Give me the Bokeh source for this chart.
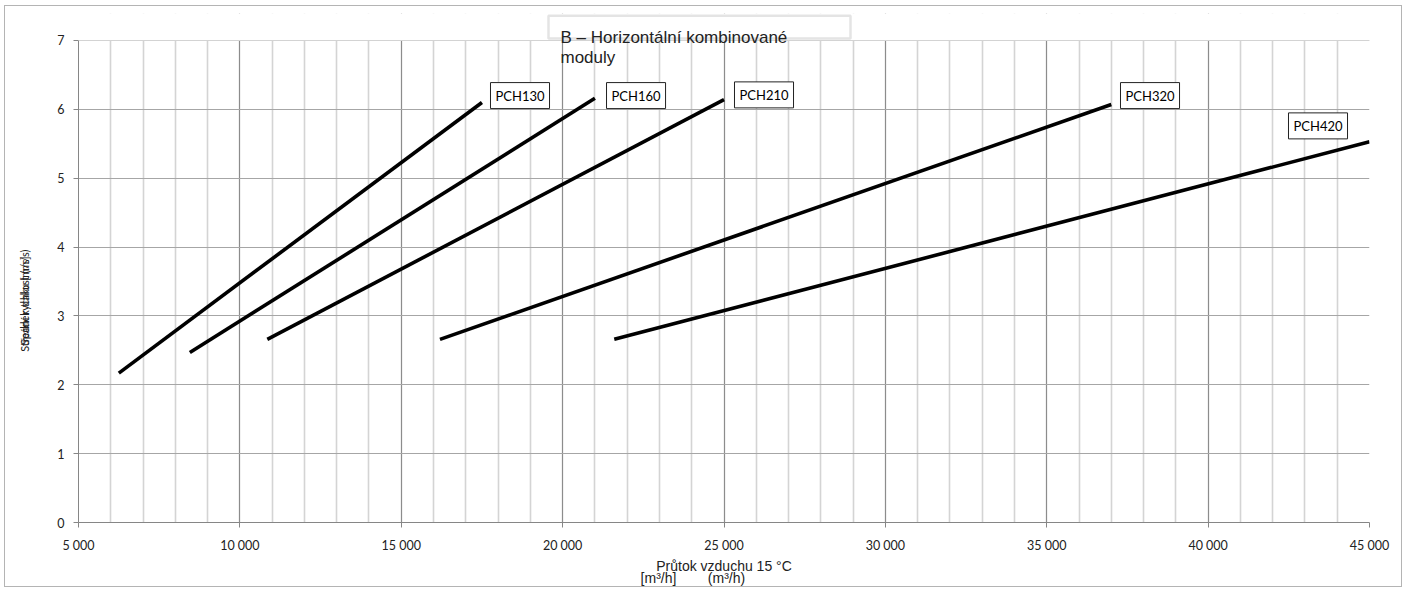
from bokeh.plotting import figure
from bokeh.models import (SingleIntervalTicker, FixedTicker, Label, BoxAnnotation,
                          CustomJSTickFormatter, Range1d, ColumnDataSource, LinearAxis)
from bokeh.embed import file_html
from bokeh.resources import INLINE

# ---- data ----
series_names = ["PCH130", "PCH160", "PCH210", "PCH320", "PCH420"]
flow_start = [6250, 8450, 10850, 16200, 21600]      # m3/h
flow_end = [17500, 21000, 25000, 37000, 45000]
speed_start = [2.17, 2.47, 2.66, 2.66, 2.66]        # m/s
speed_end = [6.10, 6.16, 6.14, 6.07, 5.53]
# series label anchor points (data units)
label_x = [17765, 21360, 25325, 37285, 42490]
label_y = [6.20, 6.20, 6.21, 6.20, 5.76]

x_min, x_max = 5000, 45000
y_min, y_max = 0, 7
x_tick_step = 5000
title_lines = ["B \u2013 Horizontální kombinované", "moduly"]
x_title = "Průtok vzduchu 15 °C"
x_units = ["[m³/h]", "(m³/h)"]
x_units_at = [22970, 25077]
y_titles = ["Spádek tlaku [m/s]", "Střední rychlost (m/s)"]
y_title_at = 3.22

W, H = 1398, 582
p = figure(width=W, height=H, output_backend="svg", toolbar_location=None,
           x_range=Range1d(x_min, x_max), y_range=Range1d(y_min, 7.392),
           min_border_left=73, min_border_right=34, min_border_top=7,
           min_border_bottom=66, title=None)
p.styles = {"border": "1px solid #b4b4b4", "margin": "5px 0px 0px 4px"}
p.outline_line_color = None
p.background_fill_color = "white"
p.border_fill_color = "white"

mx = p.xaxis[0]
my = p.yaxis[0]
mx.ticker = SingleIntervalTicker(interval=x_tick_step, num_minor_ticks=5)
my.ticker = SingleIntervalTicker(interval=1, num_minor_ticks=0)
my.bounds = (y_min, y_max)
mx.formatter = CustomJSTickFormatter(code="""
var s = Math.round(tick).toString();
return s.replace(/\\B(?=(\\d{3})+(?!\\d))/g, " ");
""")
for ax in (mx, my):
    ax.axis_line_color = "#868686"
    ax.axis_line_width = 1
    ax.major_tick_line_color = "#868686"
    ax.major_tick_in = 0
    ax.major_tick_out = 5
    ax.minor_tick_line_color = None
    ax.major_label_text_font = "Lato"
    ax.major_label_text_font_size = "12.5px"
    ax.major_label_text_color = "#222222"
mx.major_label_standoff = 10
my.major_label_standoff = 9
mx.axis_label = x_title
mx.axis_label_text_font = "Liberation Sans"
mx.axis_label_text_font_size = "14px"
mx.axis_label_text_font_style = "normal"
mx.axis_label_text_color = "#222222"
mx.axis_label_standoff = 2

# grid
p.xgrid.grid_line_color = "#8c8c8c"
p.xgrid.grid_line_width = 1
p.xgrid.minor_grid_line_color = "#d4d4d4"
p.xgrid.minor_grid_line_width = 1.6
p.ygrid.grid_line_color = "#a6a6a6"
p.ygrid.grid_line_width = 1

# white mask above the top of the value range
p.add_layout(BoxAnnotation(bottom=y_max, fill_color="white", fill_alpha=1.0,
                           line_color=None))

# lines
src = ColumnDataSource(dict(x0=flow_start, x1=flow_end, y0=speed_start, y1=speed_end))
p.segment(x0="x0", y0="y0", x1="x1", y1="y1", source=src,
          line_color="black", line_width=3.6, line_cap="butt")

# series labels
for name, lx, ly in zip(series_names, label_x, label_y):
    p.add_layout(Label(x=lx, y=ly, text=name, x_offset=0,
                       text_font="Lato", text_font_size="13px", text_color="black",
                       text_align="left", text_baseline="middle",
                       border_line_color="#222222", border_line_width=1,
                       background_fill_color="white", padding=5))

# title box
p.add_layout(BoxAnnotation(left=19562, right=28920, top=7.36, bottom=7.03,
                           fill_color="white", fill_alpha=1.0,
                           line_color="#a6a6a6", line_width=2.5))
p.add_layout(Label(x=19934, y=7.043, text=title_lines[0], text_font="Liberation Sans",
                   text_font_size="17px", text_color="#222222",
                   text_align="left", text_baseline="alphabetic"))
p.add_layout(Label(x=19934, y=6.753, text=title_lines[1], text_font="Liberation Sans",
                   text_font_size="17px", text_color="#222222",
                   text_align="left", text_baseline="alphabetic"))

# extra bottom axis carrying the unit texts
ux = LinearAxis(ticker=FixedTicker(ticks=x_units_at),
                formatter=CustomJSTickFormatter(args=dict(labels=x_units),
                                                code="return labels[index];"))
ux.axis_line_color = None
ux.major_tick_line_color = None
ux.minor_tick_line_color = None
ux.major_tick_out = 0
ux.major_tick_in = 0
ux.major_label_standoff = -7
ux.major_label_text_font = "Liberation Sans"
ux.major_label_text_font_size = "14px"
ux.major_label_text_color = "#222222"
p.add_layout(ux, "below")

# extra left axis carrying the (overlapping) y titles
uy = LinearAxis(ticker=FixedTicker(ticks=[y_title_at, y_title_at + 0.0001]),
                formatter=CustomJSTickFormatter(args=dict(labels=y_titles),
                                                code="return labels[index];"))
uy.axis_line_color = None
uy.major_tick_line_color = None
uy.minor_tick_line_color = None
uy.major_tick_out = 0
uy.major_tick_in = 0
uy.major_label_standoff = 23
uy.major_label_orientation = "vertical"
uy.major_label_text_font = "Lato"
uy.major_label_text_font_size = "11px"
uy.major_label_text_color = "#222222"
p.add_layout(uy, "left")

open("out.html", "w").write(file_html(p, INLINE))
